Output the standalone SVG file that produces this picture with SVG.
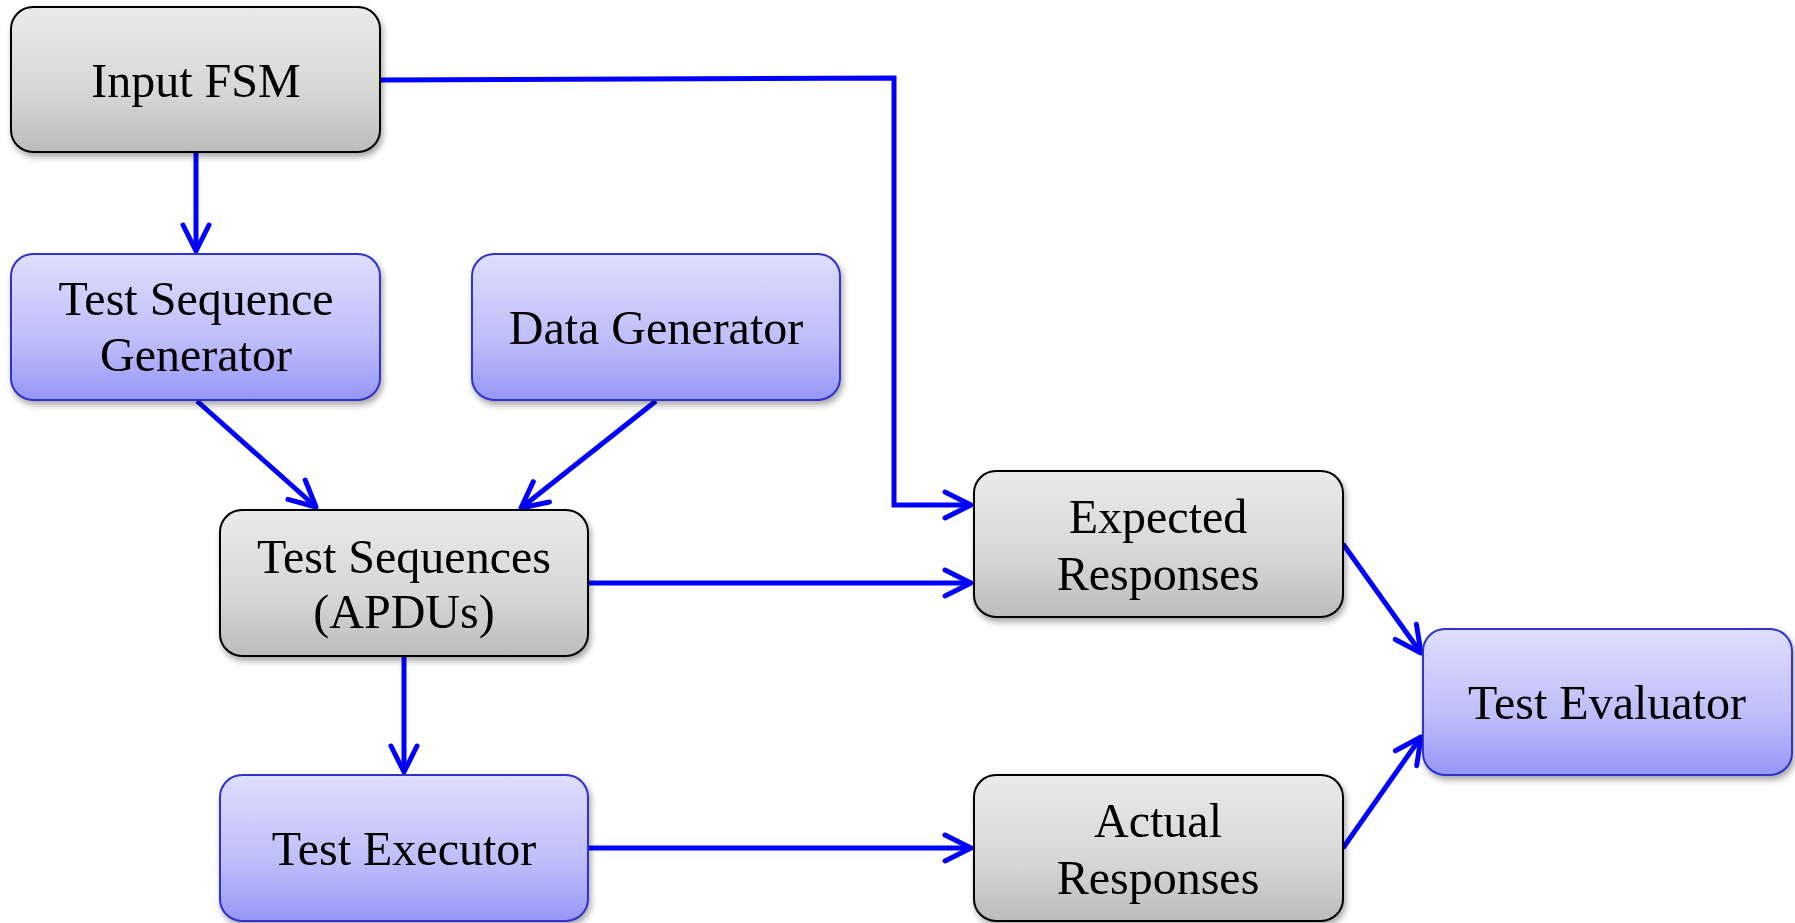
<svg xmlns="http://www.w3.org/2000/svg" width="1795" height="923" viewBox="0 0 1795 923">
<style>
.gray{fill:url(#gGray);stroke:#000;stroke-width:2}
.blue{fill:url(#gBlue);stroke:#3030C8;stroke-width:2}
.box{filter:url(#shadow)}
.t{font-family:"Liberation Serif","Times New Roman",serif;font-size:48px;fill:#000;text-anchor:middle}
.c{fill:none;stroke:#0000FF;stroke-width:5;marker-end:url(#arr)}
</style>
<defs>
<linearGradient id="gGray" x1="0" y1="0" x2="0" y2="1">
<stop offset="0" stop-color="#EAEAEA"/>
<stop offset="0.6" stop-color="#D6D6D6"/>
<stop offset="1" stop-color="#BBBBBB"/>
</linearGradient>
<linearGradient id="gBlue" x1="0" y1="0" x2="0" y2="1">
<stop offset="0" stop-color="#DEDEFC"/>
<stop offset="0.6" stop-color="#BDBDFA"/>
<stop offset="1" stop-color="#9696F6"/>
</linearGradient>
<filter id="shadow" x="-10%" y="-10%" width="125%" height="130%">
<feDropShadow dx="2" dy="4" stdDeviation="3" flood-color="#000" flood-opacity="0.35"/>
</filter>
<marker id="arr" markerUnits="userSpaceOnUse" markerWidth="60" markerHeight="60" refX="0" refY="0" orient="auto" overflow="visible">
<path d="M-26,-13 L0,0 L-26,13" fill="none" stroke="#0000FF" stroke-width="5" stroke-linecap="round" stroke-linejoin="round"/>
</marker>
</defs>
<rect width="1795" height="923" fill="#FFFFFF"/>
<g id="connectors">
<path class="c" d="M196,153 L196,251"/>
<path class="c" d="M381,80 L894,78 L894,505 L971,505"/>
<path class="c" d="M197,401 L316,507"/>
<path class="c" d="M656,401 L521,508"/>
<path class="c" d="M589,583 L971,583"/>
<path class="c" d="M404,657 L404,772"/>
<path class="c" d="M589,848 L971,848"/>
<path class="c" d="M1343,544 L1421,653"/>
<path class="c" d="M1343,848 L1421,737"/>
</g>
<g id="input-fsm" class="box">
<rect class="gray" x="11" y="7" width="369" height="145" rx="22"/>
<text class="t" x="196" y="97">Input FSM</text>
</g>
<g id="test-sequence-generator" class="box">
<rect class="blue" x="11" y="254" width="369" height="146" rx="22"/>
<text class="t" x="196" y="315">Test Sequence</text>
<text class="t" x="196" y="371">Generator</text>
</g>
<g id="data-generator" class="box">
<rect class="blue" x="472" y="254" width="368" height="146" rx="22"/>
<text class="t" x="656" y="344">Data Generator</text>
</g>
<g id="test-sequences" class="box">
<rect class="gray" x="220" y="510" width="368" height="146" rx="22"/>
<text class="t" x="404" y="573">Test Sequences</text>
<text class="t" x="404" y="628">(APDUs)</text>
</g>
<g id="test-executor" class="box">
<rect class="blue" x="220" y="775" width="368" height="146" rx="22"/>
<text class="t" x="404" y="865">Test Executor</text>
</g>
<g id="expected-responses" class="box">
<rect class="gray" x="974" y="471" width="369" height="146" rx="22"/>
<text class="t" x="1158" y="533">Expected</text>
<text class="t" x="1158" y="590">Responses</text>
</g>
<g id="actual-responses" class="box">
<rect class="gray" x="974" y="775" width="369" height="146" rx="22"/>
<text class="t" x="1158" y="837">Actual</text>
<text class="t" x="1158" y="894">Responses</text>
</g>
<g id="test-evaluator" class="box">
<rect class="blue" x="1423" y="629" width="369" height="146" rx="22"/>
<text class="t" x="1607" y="719">Test Evaluator</text>
</g>
</svg>
